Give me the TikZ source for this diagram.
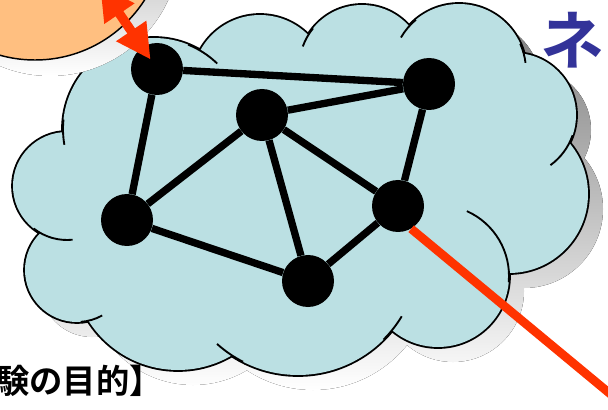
\documentclass[tikz,border=0pt]{standalone}
\usepackage{fontspec}
\usepackage{xcolor}
\usepackage{tikz}
\usetikzlibrary{arrows.meta}
\newfontfamily\jpbold{Noto Sans CJK JP}[UprightFont=* Bold]
\definecolor{cloudfill}{RGB}{187,224,227}
\definecolor{gwfill}{RGB}{255,191,128}
\definecolor{shade}{RGB}{128,128,128}
\definecolor{linkred}{RGB}{255,51,0}
\definecolor{titleblue}{RGB}{51,51,153}

\begin{document}
\begin{tikzpicture}[x=0.75pt,y=0.75pt,yscale=-1,xscale=1,
  sensor/.style={circle,fill=black,inner sep=0pt,minimum size=39pt},
  link/.style={line width=5.5pt},
  gateway/.style={circle,draw=black,line width=1.1pt,fill=gwfill,inner sep=0pt,minimum size=195pt},
  puff/.style={line width=1.4pt},
  redlink/.style={draw=linkred,line width=6.5pt},
  gwarrow/.style={draw=linkred,line width=7pt,{Triangle[width=25.5pt,length=26pt]}-{Triangle[width=25.5pt,length=26pt]}}]
\useasboundingbox (0,0) rectangle (608,410);

\begin{scope}[shift={(15,15)}]
\fill [shade] (154,129) -- (260,83) -- (362,68) -- (459,71) -- (514,115) -- (509,194) -- (438,276) -- (298,254) -- (178,264) -- (77,270) -- (67,186) -- cycle ;
\fill [shade] (154,129) circle (91) (260,83) circle (68) (362,68) circle (63) (459,71) circle (67) (514,115) circle (62) (509,194) circle (79) (438,276) circle (71) (298,254) circle (121) (178,264) circle (106) (77,270) circle (52) (67,186) circle (54) ;
\end{scope}
\draw [line width=2.8pt] (154,129) circle (91) (260,83) circle (68) (362,68) circle (63) (459,71) circle (67) (514,115) circle (62) (509,194) circle (79) (438,276) circle (71) (298,254) circle (121) (178,264) circle (106) (77,270) circle (52) (67,186) circle (54) ;
\fill [cloudfill] (154,129) circle (91) (260,83) circle (68) (362,68) circle (63) (459,71) circle (67) (514,115) circle (62) (509,194) circle (79) (438,276) circle (71) (298,254) circle (121) (178,264) circle (106) (77,270) circle (52) (67,186) circle (54) ;
\fill [cloudfill] (154,129) -- (260,83) -- (362,68) -- (459,71) -- (514,115) -- (509,194) -- (438,276) -- (298,254) -- (178,264) -- (77,270) -- (67,186) -- cycle ;
\draw [puff] (154,129) ++(170:91) arc [start angle=170,end angle=186,radius=91] ;
\draw [puff] (154,129) ++(292:91) arc [start angle=292,end angle=314,radius=91] ;
\draw [puff] (362,68) ++(200:63) arc [start angle=200,end angle=219,radius=63] ;
\draw [puff] (459,71) ++(210:67) arc [start angle=210,end angle=230,radius=67] ;
\draw [puff] (459,71) ++(336:67) arc [start angle=336,end angle=353,radius=67] ;
\draw [puff] (514,115) ++(19:62) arc [start angle=19,end angle=54,radius=62] ;
\draw [puff] (438,276) ++(294:71) arc [start angle=294,end angle=365,radius=71] ;
\draw [puff] (298,254) ++(31:121) arc [start angle=31,end angle=45,radius=121] ;
\draw [puff] (298,254) ++(117:121) arc [start angle=117,end angle=132,radius=121] ;
\draw [puff] (77,270) ++(61:52) arc [start angle=61,end angle=86,radius=52] ;
\draw [puff] (67,186) ++(84:54) arc [start angle=84,end angle=128,radius=54] ;

\fill [shade] (50,-54) circle (130) ;
\node [gateway] (gw) at (35,-70) {} ;

\node [sensor] (a) at (157,69) {} ;
\node [sensor] (b) at (262,115) {} ;
\node [sensor] (c) at (429,84) {} ;
\node [sensor] (d) at (127,220) {} ;
\node [sensor] (e) at (398,206) {} ;
\node [sensor] (f) at (308,281) {} ;
\draw [link] (a) -- (c) ;
\draw [link] (a) -- (d) ;
\draw [link] (b) -- (c) ;
\draw [link] (b) -- (d) ;
\draw [link] (b) -- (f) ;
\draw [link] (b) -- (e) ;
\draw [link] (c) -- (e) ;
\draw [link] (d) -- (f) ;
\draw [link] (f) -- (e) ;

\coordinate (sink) at (661,436) ;
\draw [redlink] (e.-60) -- (sink) ;
\coordinate (uplink) at (100,-15) ;
\draw [gwarrow,shorten >=8.5pt] (uplink) -- (a.center) ;

\node [anchor=west,inner sep=0pt,font=\jpbold\fontsize{25}{30}\selectfont] (goal) at (-4,381) {験の目的】} ;
\node [inner sep=0pt,text=titleblue,font=\jpbold\fontsize{48}{52}\selectfont] (title) at (572,40) {ネ} ;
\end{tikzpicture}
\end{document}
